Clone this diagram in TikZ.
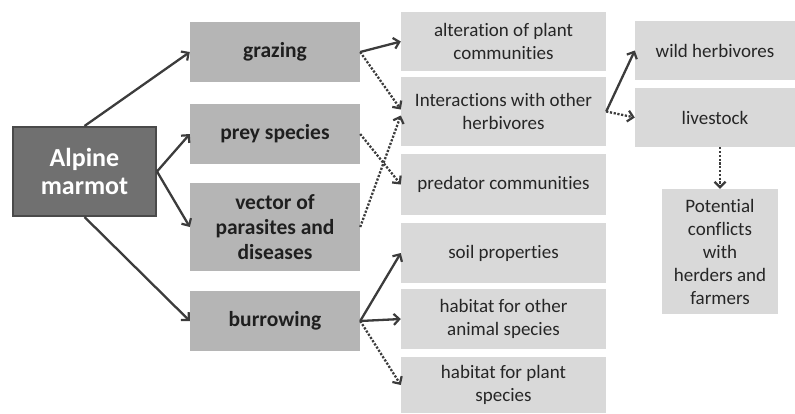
\documentclass[tikz,border=0pt]{standalone}
\usepackage{fontspec}
\setmainfont{Carlito}[Ligatures=NoCommon]
\usetikzlibrary{arrows.meta}
\definecolor{boxmid}{HTML}{B5B5B5}
\definecolor{boxlight}{HTML}{D9D9D9}
\definecolor{marmotfill}{HTML}{707070}
\definecolor{marmotline}{HTML}{4A4A4A}
\definecolor{arrowcol}{HTML}{3C3C3C}
\tikzset{
  midbox/.style={fill=boxmid, inner sep=0pt, align=center, font=\fontsize{21.5}{25}\selectfont\bfseries, text=black!88},
  lightbox/.style={fill=boxlight, inner sep=0pt, align=center, font=\fontsize{19}{23}\selectfont, text=black!85},
  marmotbox/.style={fill=marmotfill, draw=marmotline, line width=2pt, inner sep=0pt, align=center, font=\fontsize{26}{28}\selectfont\bfseries, text=white},
  solidarr/.style={draw=arrowcol, line width=2.3pt, -{Straight Barb[length=5.5pt,width=11pt,line width=2.2pt]}},
  dotarr/.style={draw=arrowcol, line width=2.3pt, dash pattern=on 2.2pt off 1.6pt, -{Straight Barb[length=5.5pt,width=11pt,line width=2.2pt]}}
}
\begin{document}
\begin{tikzpicture}[x=1pt,y=-1pt]
\useasboundingbox (0,0) rectangle (795,413);
% left
\node[marmotbox, minimum width=143pt, minimum height=89pt] (marmot) at (84.5,171.5) {Alpine\\marmot};
% column 2
\node[midbox, minimum width=170pt, minimum height=60pt] (graz) at (275,52) {grazing};
\node[midbox, minimum width=170pt, minimum height=60pt] (prey) at (275,134) {prey species};
\node[midbox, minimum width=170pt, minimum height=88pt] (vect) at (275,227) {vector of\\parasites and\\diseases};
\node[midbox, minimum width=170pt, minimum height=60pt] (burr) at (275,321) {burrowing};
% column 3
\node[lightbox, minimum width=205pt, minimum height=59pt] (alter) at (503.5,41.5) {alteration of plant\\communities};
\node[lightbox, minimum width=205pt, minimum height=69pt] (inter) at (503.5,111.5) {Interactions with other\\herbivores};
\node[lightbox, minimum width=205pt, minimum height=61pt] (pred) at (503.5,184.5) {predator communities};
\node[lightbox, minimum width=205pt, minimum height=60pt] (soil) at (503.5,253) {soil properties};
\node[lightbox, minimum width=205pt, minimum height=60pt] (hab1) at (503.5,319) {habitat for other\\animal species};
\node[lightbox, minimum width=205pt, minimum height=56pt] (hab2) at (503.5,385) {habitat for plant\\species};
% column 4
\node[lightbox, minimum width=160pt, minimum height=59pt] (wild) at (715,50.5) {wild herbivores};
\node[lightbox, minimum width=160pt, minimum height=59pt] (live) at (715,117.5) {livestock};
\node[lightbox, minimum width=116pt, minimum height=125pt] (pot) at (720,251.5) {Potential\\conflicts\\with\\herders and\\farmers};
% arrows
\draw[solidarr] (marmot.north) -- (graz.west);
\draw[solidarr] (marmot.east) -- (prey.west);
\draw[solidarr] (marmot.east) -- (vect.west);
\draw[solidarr] (marmot.south) -- (burr.west);
\draw[solidarr] (graz.east) -- (alter.west);
\draw[dotarr] (graz.east) -- ([yshift=2pt]inter.west);
\draw[dotarr] (prey.east) -- (pred.west);
\draw[dotarr] (vect.east) -- ([yshift=-4pt]inter.west);
\draw[solidarr] (burr.east) -- (soil.west);
\draw[solidarr] (burr.east) -- (hab1.west);
\draw[dotarr] (burr.east) -- (hab2.west);
\draw[solidarr] (inter.east) -- (wild.west);
\draw[dotarr] (inter.east) -- (live.west);
\draw[dotarr] ([xshift=5pt]live.south) -- (pot.north);
\end{tikzpicture}
\end{document}
